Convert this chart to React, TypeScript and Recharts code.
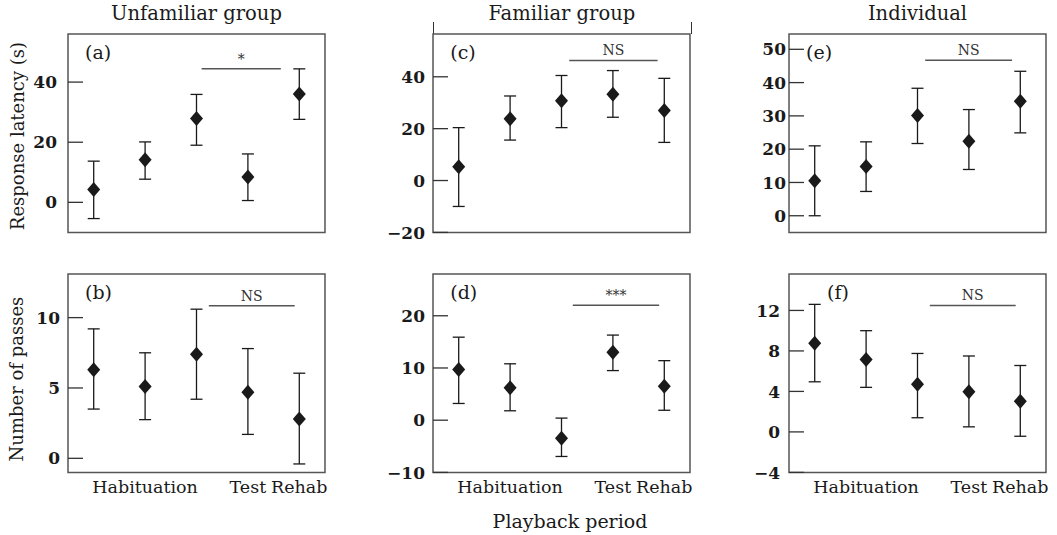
import React from 'react';
import {
    ScatterChart, Scatter, XAxis, YAxis, ErrorBar,
    ReferenceLine, ReferenceArea,
} from 'recharts';

// ── Data ──────────────────────────────────────────────────────────────────────

const periods = [1, 2, 3, 4, 5];
const xTicks = [2, 4, 5];
const xTickLabels = ['Habituation', 'Test', 'Rehab'];

// (a) unfamiliar group – response latency (s)
const aMean = [4.3, 14.2, 27.9, 8.4, 36.0];
const aHigh = [13.7, 20.1, 35.9, 16.1, 44.4];
const aLow = [-5.4, 7.7, 19.0, 0.6, 27.6];

// (c) familiar group – response latency (s)
const cMean = [5.3, 23.8, 30.8, 33.3, 27.0];
const cHigh = [20.4, 32.6, 40.5, 42.4, 39.4];
const cLow = [-10.0, 15.6, 20.4, 24.4, 14.7];

// (e) individual – response latency (s)
const eMean = [10.5, 14.8, 30.1, 22.4, 34.4];
const eHigh = [21.0, 22.2, 38.3, 31.9, 43.4];
const eLow = [0.0, 7.3, 21.7, 13.9, 24.9];

// (b) unfamiliar group – number of passes
const bMean = [6.3, 5.1, 7.4, 4.7, 2.8];
const bHigh = [9.2, 7.5, 10.6, 7.8, 6.05];
const bLow = [3.5, 2.75, 4.2, 1.7, -0.4];

// (d) familiar group – number of passes
const dMean = [9.7, 6.2, -3.45, 13.0, 6.5];
const dHigh = [15.9, 10.8, 0.4, 16.3, 11.4];
const dLow = [3.2, 1.8, -6.95, 9.5, 1.9];

// (f) individual – number of passes
const fMean = [8.75, 7.15, 4.7, 3.96, 3.03];
const fHigh = [12.6, 10.0, 7.75, 7.5, 6.56];
const fLow = [4.95, 4.4, 1.4, 0.5, -0.43];

// y ticks per panel
const aTicks = [0, 20, 40];
const cTicks = [-20, 0, 20, 40];
const eTicks = [0, 10, 20, 30, 40, 50];
const bTicks = [0, 5, 10];
const dTicks = [-10, 0, 10, 20];
const fTicks = [-4, 0, 4, 8, 12];

// significance bars: [from period, to period, value, label]
const aSig: [number, number, number, string] = [3.1, 4.64, 44.4, '*'];
const cSig: [number, number, number, string] = [3.15, 4.87, 46.3, 'NS'];
const eSig: [number, number, number, string] = [3.15, 4.84, 46.7, 'NS'];
const bSig: [number, number, number, string] = [3.24, 4.91, 10.85, 'NS'];
const dSig: [number, number, number, string] = [3.22, 4.9, 22.0, '***'];
const fSig: [number, number, number, string] = [3.24, 4.91, 12.5, 'NS'];

// ── Styling ───────────────────────────────────────────────────────────────────

const FONT = '"DejaVu Serif", serif';
const INK = '#1a1a1a';
const BOX_W = 257;
const BOX_H = 198.4;
const Y_W = 60;
const PAD = 6;

const toRows = (mean: number[], high: number[], low: number[]) =>
    periods.map((p, i) => ({
        x: p,
        y: mean[i],
        err: [mean[i] - low[i], high[i] - mean[i]],
    }));

const fmt = (v: number) => (v < 0 ? `\u2212${Math.abs(v)}` : `${v}`);

function Diamond(props: any) {
    const { cx, cy } = props;
    if (cx == null || cy == null) return null;
    return (
        <polygon
            points={`${cx},${cy - 7.5} ${cx + 6.5},${cy} ${cx},${cy + 7.5} ${cx - 6.5},${cy}`}
            fill={INK}
        />
    );
}

function YTick({ x, y, payload, gap }: any) {
    return (
        <g>
            <line x1={x} x2={x + 15} y1={y} y2={y} stroke="#333" strokeWidth={1.3} />
            <text
                x={x - gap}
                y={y}
                dy="0.36em"
                textAnchor="end"
                fill={INK}
                fontSize={17}
                fontWeight="bold"
                fontFamily={FONT}
            >
                {fmt(payload.value)}
            </text>
        </g>
    );
}

// ── Panel ─────────────────────────────────────────────────────────────────────

interface PanelProps {
    left: number;
    top: number;
    letter: string;
    letterX: number;
    mean: number[];
    high: number[];
    low: number[];
    domain: [number, number];
    ticks: number[];
    sig: [number, number, number, string];
    gap: number;
    showX: boolean;
}

function Panel({ left, top, letter, letterX, mean, high, low, domain, ticks, sig, gap, showX }: PanelProps) {
    const data = toRows(mean, high, low);
    const xh = showX ? 40 : 16;
    return (
        <div style={{ position: 'absolute', left: left - Y_W, top: top - PAD }}>
            <ScatterChart
                width={Y_W + BOX_W + PAD}
                height={PAD + BOX_H + xh}
                margin={{ top: PAD, right: PAD, bottom: 0, left: 0 }}
            >
                <XAxis
                    type="number"
                    dataKey="x"
                    domain={[0.5, 5.5]}
                    allowDataOverflow
                    ticks={xTicks}
                    interval={0}
                    tickFormatter={(v: number) => xTickLabels[xTicks.indexOf(v)] ?? ''}
                    tick={showX ? { fill: INK, fontSize: 17.5, fontFamily: FONT } : false}
                    tickLine={false}
                    axisLine={false}
                    tickSize={0}
                    tickMargin={8}
                    height={xh}
                />
                <YAxis
                    type="number"
                    dataKey="y"
                    domain={domain}
                    allowDataOverflow
                    ticks={ticks}
                    interval={0}
                    tick={(p: any) => <YTick {...p} gap={gap} />}
                    tickLine={false}
                    axisLine={false}
                    tickSize={0}
                    tickMargin={0}
                    width={Y_W}
                />
                <ReferenceArea
                    x1={0.5}
                    x2={5.5}
                    y1={domain[0]}
                    y2={domain[1]}
                    fill="none"
                    stroke="#555"
                    strokeWidth={1.5}
                />
                <ReferenceLine
                    segment={[{ x: sig[0], y: sig[2] }, { x: sig[1], y: sig[2] }]}
                    stroke="#555"
                    strokeWidth={1.5}
                    label={{
                        value: sig[3],
                        position: 'top',
                        offset: 5,
                        fill: '#333',
                        fontSize: 14,
                        fontFamily: FONT,
                    }}
                />
                <Scatter data={data} shape={<Diamond />} isAnimationActive={false}>
                    <ErrorBar
                        dataKey="err"
                        direction="y"
                        width={6}
                        stroke={INK}
                        strokeWidth={1.3}
                        isAnimationActive={false}
                    />
                </Scatter>
            </ScatterChart>
            <div
                style={{
                    position: 'absolute',
                    left: Y_W + letterX,
                    top: PAD + 7,
                    fontFamily: FONT,
                    fontSize: 19,
                    color: INK,
                    lineHeight: '22px',
                }}
            >
                {letter}
            </div>
        </div>
    );
}

// ── App ───────────────────────────────────────────────────────────────────────

const text = (extra: React.CSSProperties): React.CSSProperties => ({
    position: 'absolute',
    fontFamily: FONT,
    fontSize: 17,
    color: INK,
    whiteSpace: 'nowrap',
    lineHeight: '22px',
    ...extra,
});

export default function App() {
    const cols = [68, 433.3, 789];
    const rows = [34, 274.3];
    return (
        <div
            style={{
                position: 'absolute',
                left: 0,
                top: 0,
                width: 1057,
                height: 535,
                background: '#fff',
                overflow: 'hidden',
            }}
        >
            {/* column titles */}
            <div style={text({ left: cols[0], top: 3, width: BOX_W, textAlign: 'center', fontSize: 19.5 })}>
                Unfamiliar group
            </div>
            <div style={text({ left: cols[1], top: 3, width: BOX_W, textAlign: 'center', fontSize: 19.5 })}>
                Familiar group
            </div>
            <div style={text({ left: cols[2], top: 3, width: BOX_W, textAlign: 'center', fontSize: 19.5 })}>
                Individual
            </div>
            {/* bracket on familiar group */}
            <div
                style={{
                    position: 'absolute',
                    left: cols[1] - 0.75,
                    top: 22,
                    width: BOX_W,
                    height: 12,
                    borderLeft: '1.5px solid #333',
                    borderRight: '1.5px solid #333',
                }}
            />

            {/* y labels */}
            <div
                style={text({
                    left: 18 - 110,
                    top: 136 - 11,
                    width: 220,
                    textAlign: 'center',
                    fontSize: 18,
                    transform: 'rotate(-90deg)',
                })}
            >
                Response latency (s)
            </div>
            <div
                style={text({
                    left: 17 - 110,
                    top: 379 - 11,
                    width: 220,
                    textAlign: 'center',
                    fontSize: 18,
                    transform: 'rotate(-90deg)',
                })}
            >
                Number of passes
            </div>

            <Panel left={cols[0]} top={rows[0]} letter="(a)" letterX={17} mean={aMean} high={aHigh} low={aLow}
                domain={[-10, 56]} ticks={aTicks} sig={aSig} gap={11} showX={false} />
            <Panel left={cols[1]} top={rows[0]} letter="(c)" letterX={17} mean={cMean} high={cHigh} low={cLow}
                domain={[-20, 56.5]} ticks={cTicks} sig={cSig} gap={8} showX={false} />
            <Panel left={cols[2]} top={rows[0]} letter="(e)" letterX={17} mean={eMean} high={eHigh} low={eLow}
                domain={[-5, 54.6]} ticks={eTicks} sig={eSig} gap={3} showX={false} />

            <Panel left={cols[0]} top={rows[1]} letter="(b)" letterX={17} mean={bMean} high={bHigh} low={bLow}
                domain={[-1, 13.1]} ticks={bTicks} sig={bSig} gap={8} showX />
            <Panel left={cols[1]} top={rows[1]} letter="(d)" letterX={17} mean={dMean} high={dHigh} low={dLow}
                domain={[-10, 28]} ticks={dTicks} sig={dSig} gap={8} showX />
            <Panel left={cols[2]} top={rows[1]} letter="(f)" letterX={38} mean={fMean} high={fHigh} low={fLow}
                domain={[-4, 15.6]} ticks={fTicks} sig={fSig} gap={9} showX />

            <div style={text({ left: 570 - 110, top: 510, width: 220, textAlign: 'center', fontSize: 19 })}>
                Playback period
            </div>
        </div>
    );
}
